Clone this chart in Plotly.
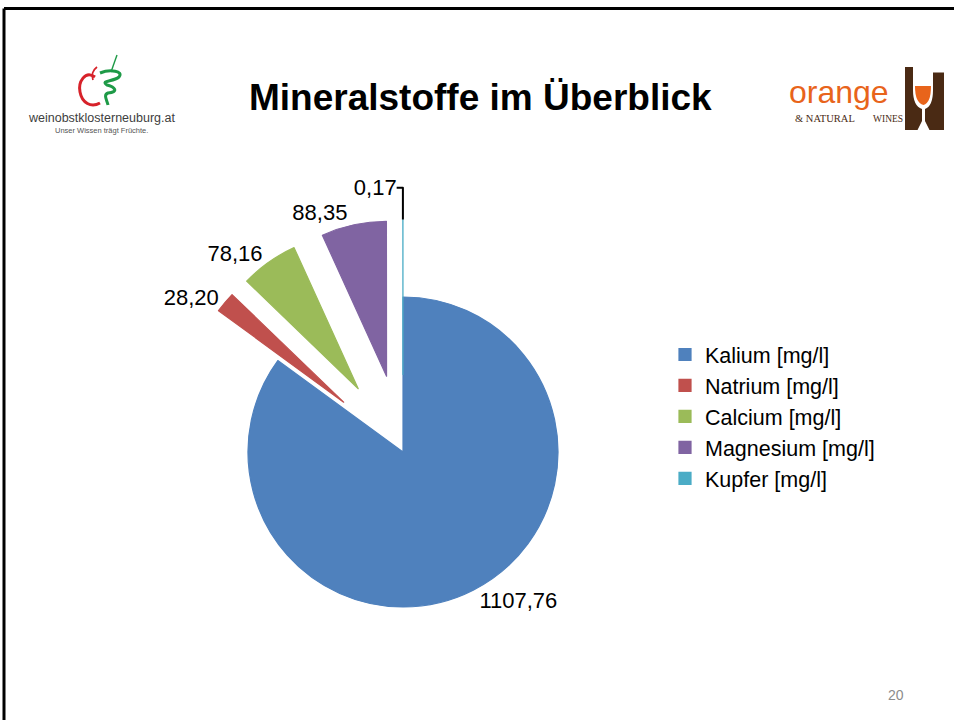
import plotly.graph_objects as go

# ---- data ----
labels = ["Kalium [mg/l]", "Natrium [mg/l]", "Calcium [mg/l]", "Magnesium [mg/l]", "Kupfer [mg/l]"]
values = [1107.76, 28.20, 78.16, 88.35, 0.17]
colors = ["#4F81BD", "#C0504D", "#9BBB59", "#8064A2", "#4BACC6"]
pulls = [0, 0.5, 0.5, 0.5, 0.5]

title_text = "Mineralstoffe im Überblick"
page_number = "20"

W, H = 954, 720
FONT = "Arial, Liberation Sans, sans-serif"

# pie geometry: centre (403,452) px, radius 155 px
cx, cy, r = 403, 452, 155
half = r * (1 + max(pulls))
dom_x = [(cx - half) / W, (cx + half) / W]
dom_y = [(H - (cy + half)) / H, (H - (cy - half)) / H]

fig = go.Figure()
fig.add_trace(go.Pie(
    labels=labels,
    values=values,
    sort=False,
    direction="clockwise",
    rotation=0,
    pull=pulls,
    marker=dict(colors=colors, line=dict(color=colors, width=1.2)),
    texttemplate="%{value:.2f}",
    textposition="outside",
    outsidetextfont=dict(family=FONT, size=22, color="#000000"),
    domain=dict(x=dom_x, y=dom_y),
    hoverinfo="label+value",
    automargin=False,
))


def px(x):
    return x / W


def py(y):
    return 1 - y / H


def to_paper_path(cmds):
    out = []
    for c in cmds:
        if isinstance(c, str):
            out.append(c)
        else:
            out.append(f"{px(c[0]):.5f},{py(c[1]):.5f}")
    return " ".join(out)


shapes = []
# slide border (top and left)
shapes.append(dict(type="line", xref="paper", yref="paper", x0=px(4), x1=1,
                   y0=py(8.5), y1=py(8.5), line=dict(color="#000000", width=3)))
shapes.append(dict(type="line", xref="paper", yref="paper", x0=px(4), x1=px(4),
                   y0=py(8.5), y1=0, line=dict(color="#000000", width=3)))

# left logo (apple + green swirl)
shapes.append(dict(type="path", xref="paper", yref="paper",
                   path=to_paper_path(["M", (95, 77), "C", (85, 70), (78, 82), (80, 92),
                                       "C", (82, 103), (91, 108), (100, 103)]),
                   line=dict(color="#D7222A", width=3)))
shapes.append(dict(type="path", xref="paper", yref="paper",
                   path=to_paper_path(["M", (93, 80), "C", (91, 75), (93, 70), (97, 67)]),
                   line=dict(color="#D7222A", width=1.8)))
shapes.append(dict(type="path", xref="paper", yref="paper",
                   path=to_paper_path(["M", (100, 73), "C", (110, 69), (124, 71), (119, 77),
                                       "C", (113, 82), (100, 80), (107, 85),
                                       "C", (115, 87), (119, 92), (108, 93),
                                       "C", (103, 95), (107, 100), (108, 105)]),
                   line=dict(color="#1E9A47", width=3)))
shapes.append(dict(type="path", xref="paper", yref="paper",
                   path=to_paper_path(["M", (111, 72), "L", (117, 55)]),
                   line=dict(color="#1E9A47", width=1.4)))

# right logo (bottle/glass)
shapes.append(dict(type="rect", xref="paper", yref="paper", x0=px(905), x1=px(944),
                   y0=py(67), y1=py(130), fillcolor="#4A2A14", line=dict(width=0)))
shapes.append(dict(type="path", xref="paper", yref="paper",
                   path=to_paper_path(["M", (913, 66), "L", (933, 66), "L", (933, 90),
                                       "Q", (933, 106), (925, 109), "L", (925, 121), "L", (930, 131),
                                       "L", (917, 131), "L", (922, 121), "L", (922, 109),
                                       "Q", (913, 106), (913, 90), "Z"]),
                   fillcolor="#FFFFFF", line=dict(width=0)))
shapes.append(dict(type="rect", xref="paper", yref="paper", x0=px(933), x1=px(945),
                   y0=py(66), y1=py(72.5), fillcolor="#FFFFFF", line=dict(width=0)))
shapes.append(dict(type="path", xref="paper", yref="paper",
                   path=to_paper_path(["M", (915, 86), "L", (931, 86), "Q", (931, 103), (923.5, 105),
                                       "Q", (915, 103), (915, 86), "Z"]),
                   fillcolor="#E8641B", line=dict(width=0)))

annotations = [
    dict(text=f"<b>{title_text}</b>", x=px(480), y=py(98), xref="paper", yref="paper",
         showarrow=False, font=dict(family=FONT, size=37, color="#000000"),
         xanchor="center", yanchor="middle"),
    dict(text="weinobstklosterneuburg.at", x=px(101), y=py(118), xref="paper", yref="paper",
         showarrow=False, font=dict(family=FONT, size=12.5, color="#404040"),
         xanchor="center", yanchor="middle"),
    dict(text="Unser Wissen trägt Früchte.", x=px(101), y=py(130), xref="paper", yref="paper",
         showarrow=False, font=dict(family=FONT, size=7.5, color="#555555"),
         xanchor="center", yanchor="middle"),
    dict(text="orange", x=px(839), y=py(92), xref="paper", yref="paper",
         showarrow=False, font=dict(family=FONT, size=32, color="#E8641B"),
         xanchor="center", yanchor="middle"),
    dict(text="&amp; NATURAL", x=px(825), y=py(119), xref="paper", yref="paper",
         showarrow=False, font=dict(family="Liberation Serif, serif", size=10.5, color="#4A2A14"),
         xanchor="center", yanchor="middle"),
    dict(text="WINES", x=px(888), y=py(119), xref="paper", yref="paper",
         showarrow=False, font=dict(family="Liberation Serif, serif", size=9.5, color="#4A2A14"),
         xanchor="center", yanchor="middle"),
    dict(text=page_number, x=px(896), y=py(695), xref="paper", yref="paper",
         showarrow=False, font=dict(family=FONT, size=14, color="#8C8C8C"),
         xanchor="center", yanchor="middle"),
]

fig.update_layout(
    width=W, height=H,
    margin=dict(l=0, r=0, t=0, b=0),
    paper_bgcolor="#FFFFFF",
    plot_bgcolor="#FFFFFF",
    separators=",.",
    showlegend=True,
    legend=dict(x=px(665), y=py(334), xanchor="left", yanchor="top",
                font=dict(family=FONT, size=21.5, color="#000000"),
                bgcolor="rgba(0,0,0,0)", traceorder="normal", itemclick=False),
    shapes=shapes,
    annotations=annotations,
)

fig.write_html("out.html", config={"displayModeBar": False},
               post_script="document.body.style.margin='0';")
